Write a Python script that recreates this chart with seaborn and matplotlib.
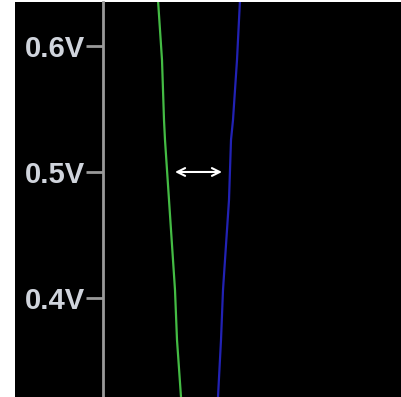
import numpy as np
import pandas as pd
import seaborn as sns
import matplotlib.pyplot as plt
from matplotlib.patches import Rectangle

# voltage levels and horizontal positions of the two traces
volts = [0.6365, 0.5889, 0.5413, 0.5254, 0.4778, 0.4540, 0.4063, 0.3667, 0.3214]
green_x = [158, 162, 164, 165, 169, 171, 175, 177, 181]
blue_x = [240, 237, 233, 231, 229, 227, 223, 221, 218]
ticks = [0.4, 0.5, 0.6]
tick_labels = ['0.4V', '0.5V', '0.6V']
arrow_v = 0.5
arrow_x = [175, 222]

df = pd.DataFrame({'v': volts * 2, 'x': green_x + blue_x,
                   'trace': ['green'] * len(volts) + ['blue'] * len(volts)})

sns.set_style('dark')
plt.rcParams['font.family'] = ['Liberation Sans', 'DejaVu Sans']

fig = plt.figure(figsize=(4.01, 3.97), dpi=100)
fig.patch.set_facecolor('white')
# black scope screen behind everything
fig.patches.append(Rectangle((15 / 401, 0), 1, 395 / 397, transform=fig.transFigure,
                             facecolor='black', edgecolor='none', zorder=-10))

ax = fig.add_axes([103 / 401, 0, 298 / 401, 395 / 397])
ax.set_facecolor('black')

sns.lineplot(data=df, x='x', y='v', hue='trace', palette={'green': '#44bb44', 'blue': '#2222b4'},
             orient='y', sort=False, lw=1.6, legend=False, ax=ax)

ax.annotate('', xy=(arrow_x[0], arrow_v), xytext=(arrow_x[1], arrow_v),
            arrowprops=dict(arrowstyle='<->', color='white', lw=1.5, mutation_scale=14,
                            shrinkA=0, shrinkB=0))

ax.set_xlim(103, 401)
ax.set_ylim(volts[-1], 0.6365 - 2 / 1260)
ax.set_yticks(ticks)
ax.set_yticklabels(tick_labels)
ax.set_xticks([])
ax.set_xlabel('')
ax.set_ylabel('')
ax.grid(False)
for s in ['top', 'right', 'bottom']:
    ax.spines[s].set_visible(False)
ax.spines['left'].set_color('#9a9a9a')
ax.spines['left'].set_linewidth(2)
ax.tick_params(axis='y', length=12, width=2, color='#9a9a9a', pad=1,
               labelcolor='#d0d4dc', labelsize=21, left=True)
for t in ax.get_yticklabels():
    t.set_fontweight('bold')

fig.savefig('out.png', dpi=100, facecolor=fig.get_facecolor())
